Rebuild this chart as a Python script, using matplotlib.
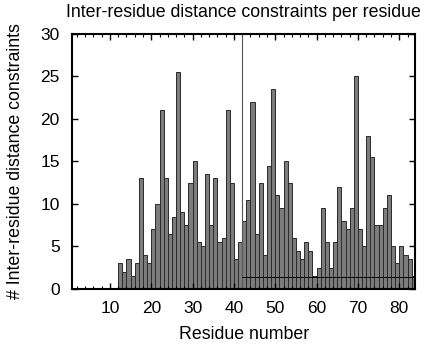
import numpy as np
import matplotlib.pyplot as plt
from matplotlib.ticker import MultipleLocator

plt.rcParams['font.family'] = ['Liberation Sans', 'DejaVu Sans']

# residue numbers and number of inter-residue constraints
residues = list(range(12, 84))
counts = [3, 2, 3.5, 1.5, 3, 13, 4, 3, 7, 10,
          21, 13, 6.5, 8.5, 25.5, 9, 7.5, 12.5, 15, 5.5,
          5, 13.5, 7.5, 13, 5.5, 6, 21, 12.5, 3.5, 5.5,
          8, 10.5, 22, 6.5, 12.5, 4, 14.5, 23.5, 11, 9.5,
          15, 12.5, 6, 4.5, 3.5, 5.5, 4.5, 1.5, 2.5, 9.5,
          5.5, 2.5, 5.5, 12, 8, 7, 9.5, 25, 7, 5,
          18, 15.5, 7.5, 7.5, 9.5, 11, 5, 3, 5, 4,
          3.5, 1.5]

marker_x = 42
mean_level = 1.4
xticks = [10, 20, 30, 40, 50, 60, 70, 80]
yticks = [0, 5, 10, 15, 20, 25, 30]


def plot_bars(ofile):
    fig = plt.figure(figsize=(4.24, 3.44), dpi=100)
    ax = fig.add_axes([0.1705, 0.1599, 0.8083, 0.7413])

    ax.bar(residues, counts, width=1.0, align='edge',
           color='#7c7c7c', edgecolor='#2a2a2a', linewidth=0.7)

    # Vertical marker and horizontal reference line
    ax.axvline(marker_x, color='#555555', linewidth=0.8)
    ax.plot([marker_x, 84], [mean_level, mean_level], color='black',
            linewidth=0.7)

    ax.set_xlim(0.9, 83.8)
    ax.set_ylim(0, 30)
    ax.set_xticks(xticks)
    ax.set_yticks(yticks)
    ax.xaxis.set_minor_locator(MultipleLocator(2))

    ax.tick_params(axis='both', which='both', direction='in',
                   top=True, right=True, labelsize=12.5)
    ax.tick_params(axis='x', pad=9)
    ax.tick_params(axis='y', pad=9)
    ax.tick_params(which='major', length=4, width=1)
    ax.tick_params(which='minor', length=2.5, width=0.8)
    for s in ax.spines.values():
        s.set_linewidth(1.5)

    ax.set_title('Inter-residue distance constraints per residue',
                 fontsize=12.8, pad=12)
    ax.set_xlabel('Residue number', fontsize=12.8, labelpad=7)
    ax.set_ylabel('# Inter-residue distance constraints', fontsize=12.8,
                  labelpad=12)

    fig.savefig(ofile, dpi=100)
    print(f'Saved {ofile}')


if __name__ == "__main__":
    plot_bars('out.png')
